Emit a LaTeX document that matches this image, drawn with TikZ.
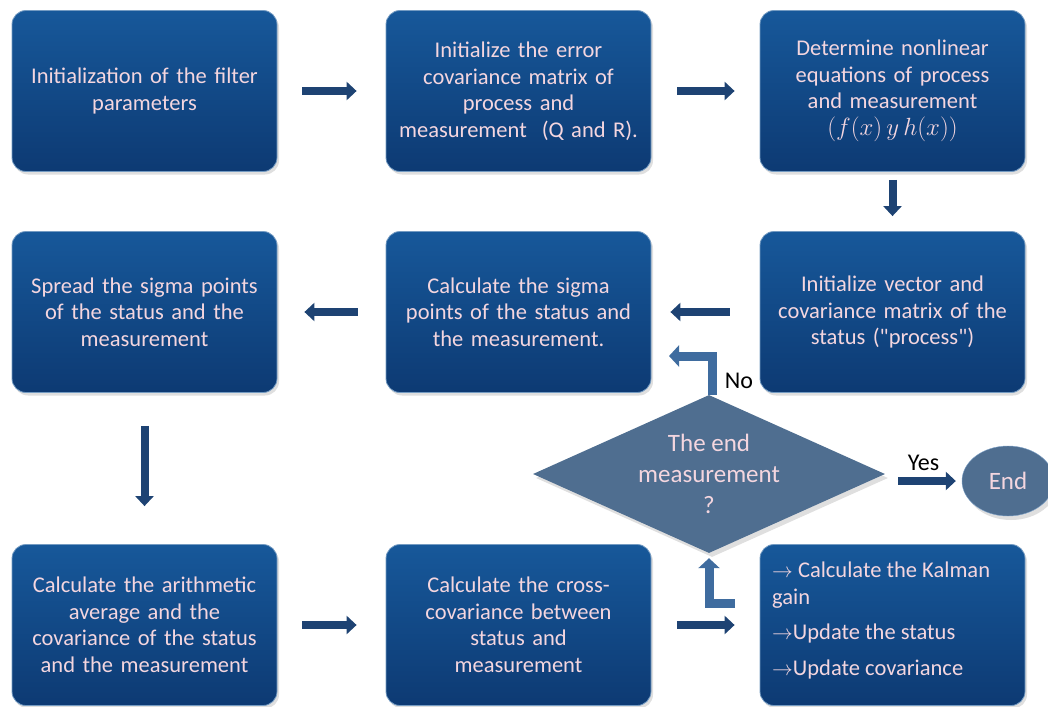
\documentclass[tikz,border=0pt]{standalone}
\usepackage{fontspec}
\setmainfont{Carlito}
\usetikzlibrary{shapes.geometric,arrows.meta,shadows}

\definecolor{boxtop}{HTML}{17589A}
\definecolor{boxbot}{HTML}{0D3A73}
\definecolor{boxtext}{HTML}{F4D6DF}
\definecolor{arrowblue}{HTML}{1E4373}
\definecolor{arrowedge}{HTML}{7FA2C8}
\definecolor{decblue}{HTML}{4F6E90}
\definecolor{lblue}{HTML}{3F6C9F}

\begin{document}
\begin{tikzpicture}[
    x=1pt, y=-1pt,
    stepbox/.style={rectangle, rounded corners=14pt, draw=boxtop!60!white, line width=0.8pt,
        top color=boxtop, bottom color=boxbot, text=boxtext,
        minimum width=265pt, minimum height=161pt, text width=255pt, align=center,
        font=\fontsize{22.5}{26.5}\selectfont,
        drop shadow={opacity=0.25, shadow xshift=2pt, shadow yshift=-3pt}},
    decision/.style={diamond, fill=decblue, inner sep=0pt,
        minimum width=352pt, minimum height=158pt,
        drop shadow={opacity=0.25, shadow xshift=3pt, shadow yshift=-4pt}},
    dectext/.style={text=boxtext, align=center, font=\fontsize{25}{31}\selectfont},
    endnode/.style={ellipse, fill=decblue, draw=arrowedge, text=boxtext,
        minimum width=92pt, minimum height=70pt, font=\fontsize{25}{28}\selectfont,
        drop shadow={opacity=0.25, shadow xshift=3pt, shadow yshift=-4pt}},
    blockarrow/.style={draw=arrowblue, line width=8pt, -{Triangle[length=10pt, width=18pt]}},
    larrow/.style={draw=lblue, line width=9pt, -{Triangle[length=10pt, width=21pt]}},
    lbl/.style={font=\fontsize{24}{26}\selectfont, text=black}
]
    \useasboundingbox (0,0) rectangle (1048,706);

    % Nodes
    \node[stepbox] (init) at (144.5,91) {Initialization of the filter\\parameters};
    \node[stepbox] (cov) at (518.5,91) {Initialize the error\\covariance matrix of\\process and\\measurement\ \ (Q and R).};
    \node[stepbox] (eqs) at (892.5,91) {Determine nonlinear\\equations of process\\and measurement\\{\fontsize{27}{26.5}\selectfont$(f(x)\,y\,h(x))$}};

    \node[stepbox] (spread) at (144.5,312) {Spread the sigma points\\of the status and the\\measurement};
    \node[stepbox] (sigma) at (518.5,312) {Calculate the sigma\\points of the status and\\the measurement.};
    \node[stepbox] (vec) at (892.5,312) {Initialize vector and\\covariance matrix of the\\status (\textquotedbl process\textquotedbl)};

    \node[stepbox] (avg) at (144.5,625) {Calculate the arithmetic\\average and the\\covariance of the status\\and the measurement};
    \node[stepbox] (cross) at (518.5,625) {Calculate the cross-\\covariance between\\status and\\measurement};
    \node[stepbox] (gain) at (892.5,625) {};
    \node[anchor=north west, text=boxtext, align=left, inner sep=0pt, font=\fontsize{22.5}{26.5}\selectfont]
        (gaintext) at (772,562) {$\rightarrow$ Calculate the Kalman\\gain\\[9pt]$\rightarrow$Update the status\\[9pt]$\rightarrow$Update covariance};

    \node[decision] (dec) at (709,474) {};
    \node[dectext] (question) at (dec.center) {The end\\measurement\\?};
    \node[endnode] (end) at (1008,481) {End};

    \coordinate (nohead) at (669,356);
    \coordinate (ltail) at (735,603);

    % Arrows
    \draw[blockarrow, shorten <=25pt, shorten >=29pt] (init) -- (cov);
    \draw[blockarrow, shorten <=26pt, shorten >=25pt] (cov) -- (eqs);
    \draw[blockarrow, shorten <=8pt, shorten >=15pt] (eqs) -- (vec);
    \draw[blockarrow, shorten <=30pt, shorten >=19pt] (vec) -- (sigma);
    \draw[blockarrow, shorten <=28pt, shorten >=27pt] (sigma) -- (spread);
    \draw[blockarrow, shorten <=33pt, shorten >=38pt] (spread) -- (avg);
    \draw[blockarrow, shorten <=25pt, shorten >=29pt] (avg) -- (cross);
    \draw[blockarrow, shorten <=26pt, shorten >=25pt] (cross) -- (gain);

    % Decision exits
    \draw[larrow] ([xshift=3pt]dec.north) |- (nohead);
    \node[lbl] (no) at (739,381) {No};
    \draw[larrow, shorten >=5pt] (ltail) -| (dec.south);
    \draw[blockarrow, shorten <=13pt, shorten >=6pt] (dec.east |- end.west) -- (end.west)
        node[lbl, midway, above=3pt] (yes) {Yes};
\end{tikzpicture}
\end{document}
